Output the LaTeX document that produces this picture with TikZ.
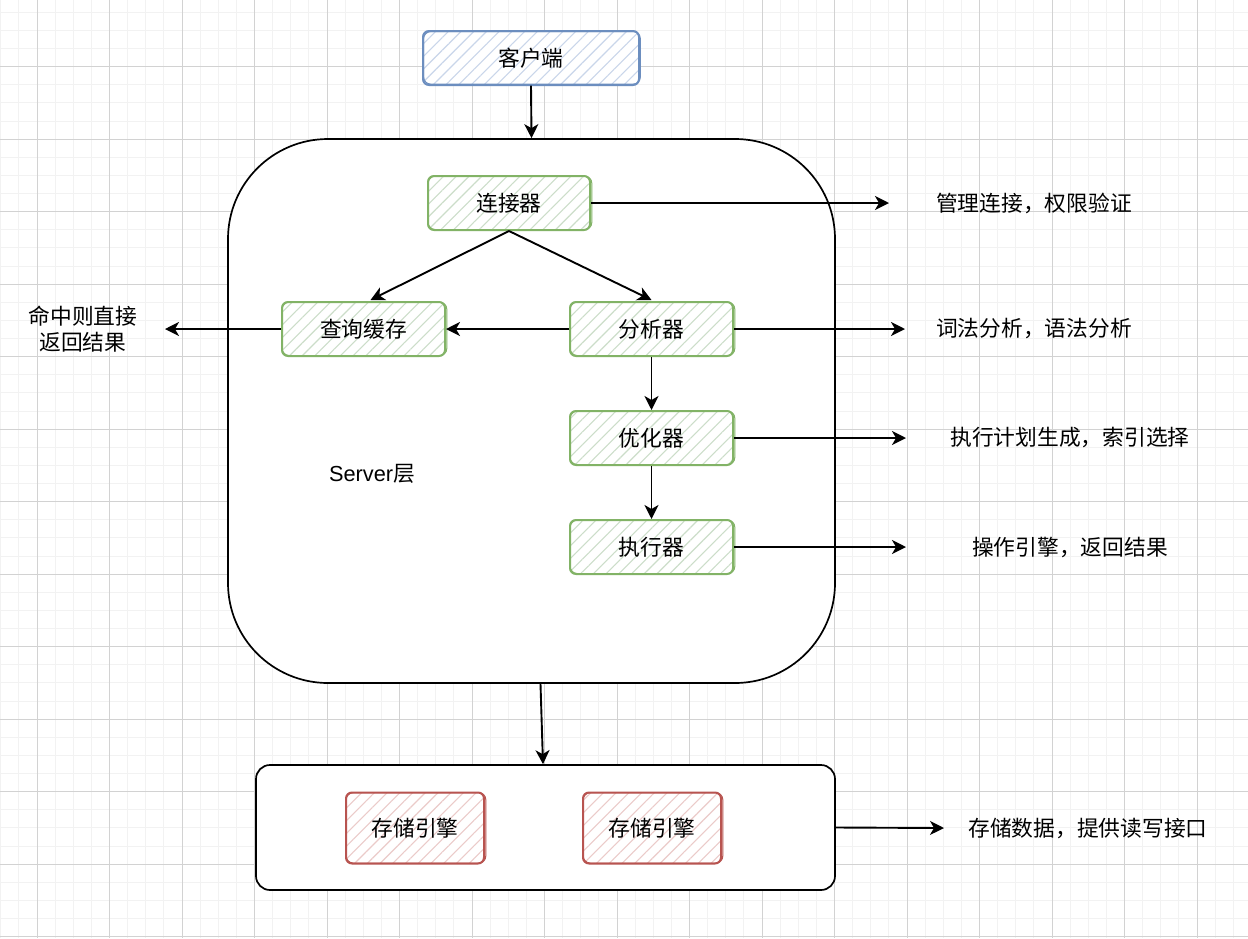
\documentclass[tikz,border=0pt]{standalone}
\usepackage{fontspec}
\setmainfont{Liberation Sans}
\newfontfamily\cjk{Noto Sans CJK SC}
\usetikzlibrary{arrows.meta,patterns.meta,calc}

\definecolor{gridminor}{HTML}{F2F2F2}
\definecolor{gridmajor}{HTML}{D2D2D2}
\definecolor{grnline}{HTML}{82B366}
\definecolor{grnhatch}{HTML}{CCDDC9}
\definecolor{bluline}{HTML}{6C8EBF}
\definecolor{bluhatch}{HTML}{C9D6EA}
\definecolor{redline}{HTML}{B85450}
\definecolor{redhatch}{HTML}{EBCBC9}

\tikzset{
  lbl/.style={font=\cjk\fontsize{21.75}{26}\selectfont, text=black, align=center},
  sk/.style={draw=#1line, line width=2pt, rounded corners=6pt,
    preaction={fill=white},
    pattern={Lines[angle=45,distance=9pt,line width=1.1pt]}, pattern color=#1hatch,
    lbl, minimum width=163pt, minimum height=54pt, inner sep=0pt},
  arr/.style={-{Stealth[length=14pt,width=14pt,inset=4pt]}, line width=1.9pt},
  bigbox/.style={draw=black, line width=1.7pt, fill=white, inner sep=0pt},
}

% second, slightly offset stroke for a hand-drawn outline
\newcommand{\roughline}[2]{%
  \draw[#2, line width=1pt, rounded corners=7pt]
    ($(#1.south west)+(1.2,-1.5)$) rectangle ($(#1.north east)+(0.8,1.2)$);}

\begin{document}
\begin{tikzpicture}[x=1pt,y=-1pt]
  \useasboundingbox (0,0) rectangle (1248,938);
  \fill[white] (0,0) rectangle (1248,938);

  % background grid
  \foreach \i in {0,...,68}
    \draw[gridminor, line width=1pt] ({0.75+18.125*\i},0) -- ({0.75+18.125*\i},938);
  \foreach \i in {0,...,51}
    \draw[gridminor, line width=1pt] (0,{12.3+18.125*\i}) -- (1248,{12.3+18.125*\i});
  \foreach \i in {0,...,16}
    \draw[gridmajor, line width=1pt] ({37+72.5*\i},0) -- ({37+72.5*\i},938);
  \foreach \i in {0,...,12}
    \draw[gridmajor, line width=1pt] (0,{66.7+72.5*\i}) -- (1248,{66.7+72.5*\i});

  % containers
  \node[bigbox, rounded corners=100pt, minimum width=607pt, minimum height=544pt] (srv) at (531.5,411) {};
  \node[bigbox, rounded corners=14pt, minimum width=579pt, minimum height=125pt] (st) at (545.5,827.5) {};
  \node[font=\fontsize{21.75}{26}\selectfont] (srvlbl) at (372,474) {Server{\cjk 层}};

  % client
  \node[sk=blu, minimum width=216pt] (cli) at (531,58) {客户端};
  \roughline{cli}{bluline}

  % server layer components
  \node[sk=grn, minimum width=162pt] (lj) at (509,203) {连接器};
  \node[sk=grn] (cx) at (363.5,329) {查询缓存};
  \node[sk=grn] (fx) at (651.5,329) {分析器};
  \node[sk=grn] (yh) at (651.5,438) {优化器};
  \node[sk=grn] (zx) at (651.5,547) {执行器};
  \foreach \n in {lj,cx,fx,yh,zx} {\roughline{\n}{grnline}}

  % storage engines
  \node[sk=red, minimum width=138pt, minimum height=71pt] (e1) at (415,828) {存储引擎};
  \node[sk=red, minimum width=138pt, minimum height=71pt] (e2) at (652,828) {存储引擎};
  \roughline{e1}{redline}
  \roughline{e2}{redline}

  % side notes
  \node[lbl] (t0) at (83,329) {命中则直接\\返回结果};
  \node[lbl] (t1) at (1034,203) {管理连接，权限验证};
  \node[lbl] (t2) at (1034,329) {词法分析，语法分析};
  \node[lbl] (t3) at (1070,438) {执行计划生成，索引选择};
  \node[lbl] (t4) at (1070,547) {操作引擎，返回结果};
  \node[lbl] (t5) at (1088,828) {存储数据，提供读写接口};

  \coordinate (a0) at (165,329);
  \coordinate (a1) at (889,203);
  \coordinate (a2) at (905,329);
  \coordinate (a3) at (906,438);
  \coordinate (a4) at (906,547);
  \coordinate (a5) at (944,828);

  % connectors
  \draw[arr] (cli.south) -- (srv.north);
  \draw[arr] (lj.south) -- ($(cx.north)+(7,-1)$);
  \draw[arr] (lj.south) -- ($(fx.north)+(0,-1)$);
  \draw[arr] (fx.west) -- (cx.east);
  \draw[arr] (cx.west) -- (a0);
  \draw[arr] (fx.south) -- (yh.north);
  \draw[arr] (yh.south) -- (zx.north);
  \draw[arr] (lj.east) -- (a1);
  \draw[arr] (fx.east) -- (a2);
  \draw[arr] (yh.east) -- (a3);
  \draw[arr] (zx.east) -- (a4);
  \draw[arr] ($(srv.south)+(9,0)$) -- ($(st.north)+(-2.5,0)$);
  \draw[arr] (st.east) -- (a5);
\end{tikzpicture}
\end{document}
